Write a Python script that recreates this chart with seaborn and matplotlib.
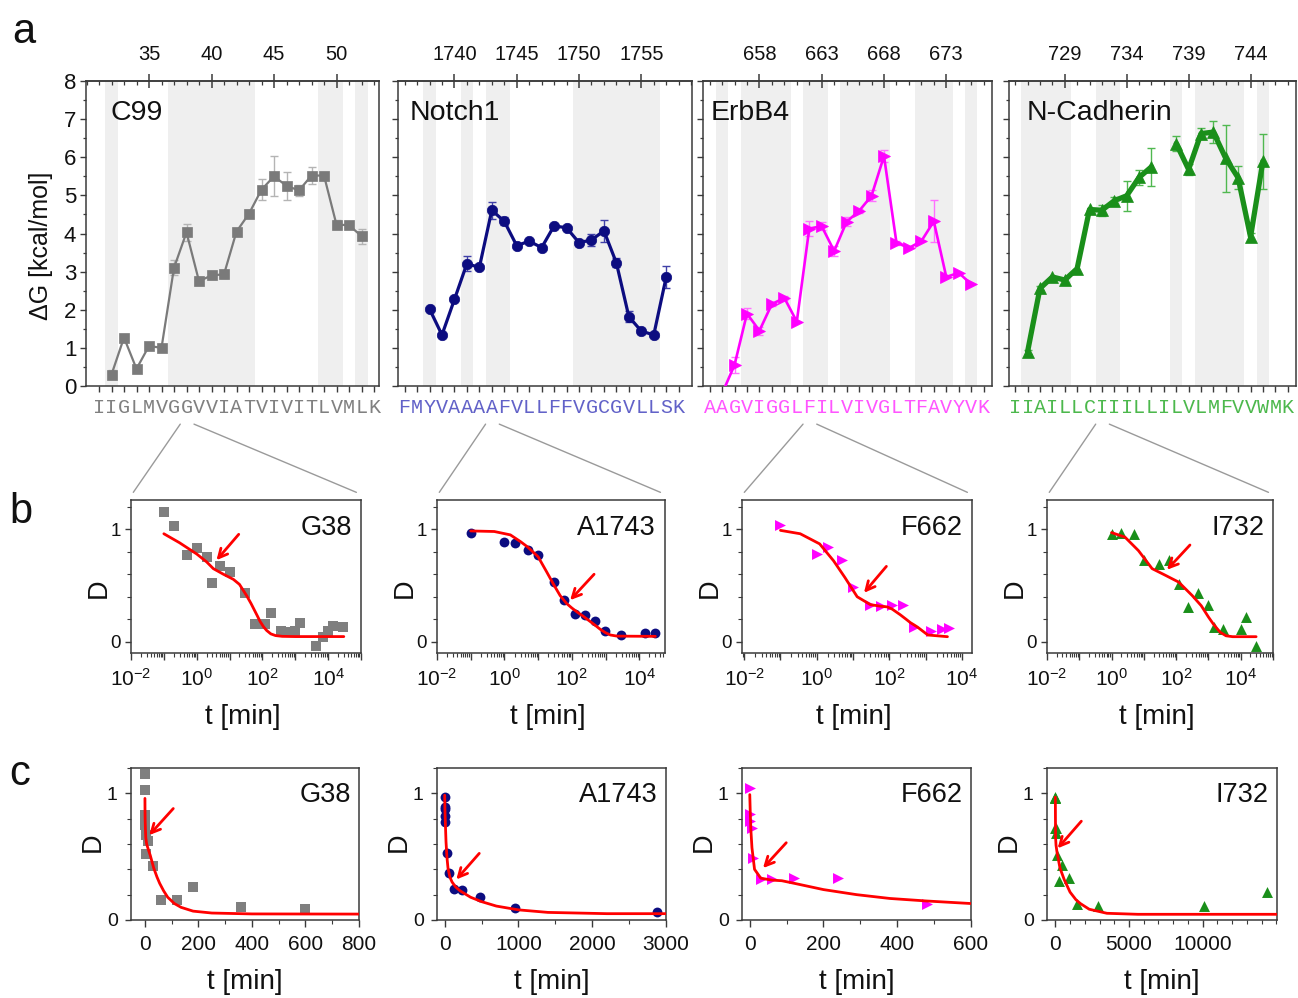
import numpy as np
import pandas as pd
import matplotlib
matplotlib.use("Agg")
import matplotlib.pyplot as plt
import seaborn as sns
from matplotlib.ticker import MultipleLocator, LogLocator, FuncFormatter, NullFormatter, FixedLocator
from matplotlib.patches import ConnectionPatch

# ---------------- data: panel a (dG profiles) ----------------
c99_seq = "IIGLMVGGVVIATVIVITLVMLK"
c99_first = 31
c99_top = [35, 40, 45, 50]
c99_res = list(range(32, 53))
c99_dg = [0.30, 1.27, 0.45, 1.05, 1.00, 3.10, 4.03, 2.75, 2.90, 2.93, 4.05,
          4.52, 5.15, 5.50, 5.25, 5.13, 5.52, 5.52, 4.23, 4.22, 3.93]
c99_err = [0.12, 0, 0, 0, 0, 0.20, 0.22, 0.10, 0.10, 0.10, 0,
           0.10, 0.28, 0.52, 0.37, 0.15, 0.22, 0, 0.12, 0, 0.20]
c99_shade = [(31.5, 32.5), (36.5, 43.5), (48.5, 50.5), (51.5, 52.5)]

notch_seq = "FMYVAAAAFVLLFFVGCGVLLSK"
notch_first = 1736
notch_top = [1740, 1745, 1750, 1755]
notch_res = list(range(1738, 1758))
notch_dg = [2.02, 1.34, 2.27, 3.21, 3.11, 4.61, 4.32, 3.68, 3.80, 3.63,
            4.20, 4.15, 3.76, 3.83, 4.07, 3.23, 1.82, 1.44, 1.34, 2.86]
notch_err = [0, 0, 0, 0.20, 0, 0.22, 0.10, 0, 0, 0,
             0, 0, 0.08, 0.15, 0.28, 0.12, 0.15, 0.08, 0.06, 0.30]
notch_shade = [(1737.5, 1738.5), (1740.5, 1741.5), (1742.5, 1744.5), (1749.5, 1756.5)]

erbb4_seq = "AAGVIGGLFILVIVGLTFAVYVK"
erbb4_first = 654
erbb4_top = [658, 663, 668, 673]
erbb4_res = list(range(655, 676))
erbb4_dg = [-0.20, 0.55, 1.90, 1.45, 2.15, 2.31, 1.69, 4.13, 4.19, 3.54, 4.31,
            4.59, 4.99, 6.03, 3.76, 3.62, 3.80, 4.32, 2.86, 2.97, 2.67]
erbb4_err = [0, 0.22, 0.15, 0.10, 0.05, 0.05, 0, 0.20, 0.10, 0.12, 0.12,
             0.05, 0.15, 0.15, 0.05, 0, 0, 0.55, 0, 0, 0]
erbb4_shade = [(654.5, 655.5), (656.5, 660.5), (661.5, 663.5), (664.5, 668.5),
               (670.5, 673.5), (674.5, 675.5)]

ncad_seq = "IIAILLCIIILLILVLMFVVWMK"
ncad_first = 725
ncad_top = [729, 734, 739, 744]
ncad_res = list(range(726, 746))
ncad_dg = [0.90, 2.56, 2.86, 2.78, 3.08, 4.63, 4.61, 4.86, 4.99, 5.47,
           5.75, np.nan, 6.36, 5.68, 6.62, 6.66, 5.97, 5.46, 3.91, 5.90]
ncad_err = [0.05, 0.05, 0, 0, 0, 0, 0.15, 0.10, 0.40, 0.20,
            0.50, 0, 0.20, 0.15, 0.15, 0.28, 0.88, 0.30, 0.10, 0.72]
ncad_shade = [(725.5, 729.5), (731.5, 733.5), (737.5, 738.5), (739.5, 743.5), (744.5, 745.5)]

# ---------------- data: panels b/c (kinetics) ----------------
g38_t = [0.1, 0.2, 0.5, 1, 2, 3, 5, 10, 30, 60, 120, 180, 360, 600, 960,
         1440, 4320, 7200, 10080, 14400, 28800]
g38_d = [1.15, 1.03, 0.77, 0.83, 0.75, 0.52, 0.67, 0.62, 0.43, 0.16, 0.16,
         0.26, 0.10, 0.09, 0.10, 0.17, -0.04, 0.04, 0.10, 0.14, 0.13]
g38_fit_t = [0.1, 0.3, 1, 2, 3.2, 6.5, 13, 20, 33, 45, 55, 70, 85, 110, 135,
             180, 250, 400, 1000, 30000]
g38_fit_d = [0.96, 0.88, 0.78, 0.71, 0.65, 0.60, 0.555, 0.51, 0.41, 0.34, 0.29,
             0.23, 0.18, 0.13, 0.10, 0.07, 0.055, 0.048, 0.046, 0.046]

a1743_t = [0.1, 1, 2, 5, 10, 30, 60, 120, 240, 480, 960, 2880, 14400, 28800]
a1743_d = [0.97, 0.89, 0.88, 0.82, 0.77, 0.53, 0.37, 0.245, 0.237, 0.185,
           0.095, 0.06, 0.08, 0.074]
a1743_fit_t = [0.1, 0.5, 1.5, 3, 5, 10, 18, 30, 45, 70, 100, 150, 210, 350,
               500, 700, 1000, 1400, 2200, 30000]
a1743_fit_d = [0.985, 0.98, 0.95, 0.89, 0.84, 0.755, 0.62, 0.50, 0.41, 0.34,
               0.30, 0.26, 0.23, 0.18, 0.145, 0.11, 0.08, 0.06, 0.05, 0.048]

f662_t = [0.1, 1, 2, 5, 10, 30, 60, 120, 240, 480, 1440, 2880, 4320]
f662_d = [1.04, 0.78, 0.84, 0.73, 0.49, 0.325, 0.32, 0.33, 0.33, 0.13, 0.10, 0.11, 0.12]
f662_fit_t = [0.1, 0.35, 1.2, 2.9, 6, 13, 30, 60, 87, 120, 200, 290, 380, 480,
              600, 1150, 4000]
f662_fit_d = [0.99, 0.96, 0.87, 0.72, 0.57, 0.40, 0.33, 0.315, 0.31, 0.29, 0.24,
              0.20, 0.17, 0.15, 0.13, 0.06, 0.045]

i732_t = [1, 2, 5, 10, 30, 60, 120, 240, 480, 960, 1440, 2880, 10080, 14400, 28800]
i732_d = [0.96, 0.97, 0.96, 0.725, 0.69, 0.73, 0.51, 0.31, 0.435, 0.33, 0.13,
          0.11, 0.11, 0.22, -0.04]
i732_fit_t = [1, 2.6, 6.8, 18, 47, 120, 316, 600, 1000, 1400, 1700, 2300, 3500,
              5600, 30000]
i732_fit_d = [0.97, 0.93, 0.81, 0.65, 0.59, 0.53, 0.41, 0.32, 0.22, 0.16, 0.13,
              0.085, 0.053, 0.045, 0.045]

# ---------------- style ----------------
sns.set_theme(style="ticks")
plt.rcParams["font.family"] = ["Liberation Sans", "DejaVu Sans"]
plt.rcParams["mathtext.fontset"] = "custom"
plt.rcParams["mathtext.rm"] = "Liberation Sans"
plt.rcParams["mathtext.it"] = "Liberation Sans:italic"
plt.rcParams["mathtext.bf"] = "Liberation Sans:bold"
plt.rcParams["axes.unicode_minus"] = True

W, H = 1298, 998
fig = plt.figure(figsize=(W / 100, H / 100), dpi=100)
SPINE = "#3a3a3a"
SHADE = "#efefef"
TXT = "#111111"


def add_ax(l, r, t, b):
    return fig.add_axes([l / W, 1 - b / H, (r - l) / W, (b - t) / H])


def style_spines(ax):
    for s in ax.spines.values():
        s.set_color(SPINE)
        s.set_linewidth(1.1)


profiles = [
    dict(name="C99", seq=c99_seq, first=c99_first, top=c99_top, res=c99_res, dg=c99_dg,
         err=c99_err, shade=c99_shade, xlim=(29.96, 53.4), lr=(86, 379),
         color="#7a7a7a", ecol="#b4b4b4", scol="#808080", marker="s", ms=7, lw=1.6, name_dx=24),
    dict(name="Notch1", seq=notch_seq, first=notch_first, top=notch_top, res=notch_res,
         dg=notch_dg, err=notch_err, shade=notch_shade, xlim=(1735.47, 1759.07), lr=(398, 692),
         color="#0c0c80", ecol="#4040a8", scol="#6262c8", marker="o", ms=7.5, lw=2.3, name_dx=12),
    dict(name="ErbB4", seq=erbb4_seq, first=erbb4_first, top=erbb4_top, res=erbb4_res,
         dg=erbb4_dg, err=erbb4_err, shade=erbb4_shade, xlim=(653.47, 676.67), lr=(703, 992),
         color="#ff00ff", ecol="#ff70ff", scol="#ff55ff", marker=">", ms=8.5, lw=1.9, name_dx=8),
    dict(name="N-Cadherin", seq=ncad_seq, first=ncad_first, top=ncad_top, res=ncad_res,
         dg=ncad_dg, err=ncad_err, shade=ncad_shade, xlim=(724.5, 747.67), lr=(1009, 1296),
         color="#1a8f1a", ecol="#50b850", scol="#4cb84c", marker="^", ms=8.5, lw=3.8, name_dx=18),
]

A_TOP, A_BOT = 81, 386
axes_a = []
for i, p in enumerate(profiles):
    ax = add_ax(p["lr"][0], p["lr"][1], A_TOP, A_BOT)
    axes_a.append(ax)
    for a, b in p["shade"]:
        ax.axvspan(a, b, color=SHADE, lw=0, zorder=0)
    df = pd.DataFrame({"res": p["res"], "dg": p["dg"], "err": p["err"]})
    df["seg"] = df["dg"].isna().cumsum()
    dfv = df.dropna(subset=["dg"])
    sns.lineplot(data=dfv, x="res", y="dg", units="seg", estimator=None, ax=ax,
                 color=p["color"], lw=p["lw"], marker=p["marker"], markersize=p["ms"],
                 markeredgecolor=p["color"], markeredgewidth=0.5, legend=False, zorder=3)
    de = dfv[dfv["err"] > 0]
    ax.errorbar(de["res"], de["dg"], yerr=de["err"], fmt="none", ecolor=p["ecol"],
                elinewidth=1.0, capsize=3, capthick=1.0, zorder=2)
    ax.set_xlim(*p["xlim"])
    ax.set_ylim(0, 8)
    ax.set_xlabel("")
    ax.set_ylabel("")
    n = len(p["seq"])
    ax.set_xticks(range(p["first"], p["first"] + n))
    ax.set_xticklabels(list(p["seq"]), family="Liberation Mono", color=p["scol"], fontsize=14.5)
    ax.tick_params(axis="x", which="major", direction="out", length=4.5, width=1,
                   color=SPINE, pad=4, bottom=True, top=False)
    ax.yaxis.set_major_locator(MultipleLocator(1))
    ax.yaxis.set_minor_locator(MultipleLocator(0.5))
    ax.tick_params(axis="y", which="major", direction="out", length=4.5, width=1,
                   color=SPINE, labelsize=16, pad=2.5, left=True, right=False,
                   labelleft=(i == 0), labelcolor=TXT)
    ax.tick_params(axis="y", which="minor", direction="out", length=2.5, width=0.9,
                   color=SPINE, left=True, right=False)
    sec = ax.secondary_xaxis("top")
    sec.set_xticks(p["top"])
    sec.xaxis.set_minor_locator(MultipleLocator(1))
    sec.tick_params(which="major", direction="inout", length=10, width=1.1, color=SPINE,
                    labelsize=14.5, pad=7, labelcolor=TXT)
    sec.tick_params(which="minor", direction="in", length=3, width=0.9, color=SPINE)
    for s in sec.spines.values():
        s.set_color(SPINE)
        s.set_linewidth(1.1)
    style_spines(ax)
    fig.text((p["lr"][0] + p["name_dx"]) / W, 1 - 120 / H, p["name"], fontsize=20.5,
             ha="left", va="baseline", color=TXT)

fig.text(41 / W, 1 - 246 / H, "\u0394G [kcal/mol]", rotation=90, fontsize=18,
         ha="center", va="center", color=TXT)

# ---------------- panels b and c ----------------
kin = [
    dict(name="G38", t=g38_t, d=g38_d, ft=g38_fit_t, fd=g38_fit_d, color="#7f7f7f", marker="s",
         s=46, res=38, pa=0, b_lr=(131, 361), b_xlim=(1e-2, 1e5), c_lr=(131, 359),
         c_xlim=(-52, 800), c_ticks=[0, 200, 400, 600, 800], c_minor=100,
         b_arrow=((19, 0.955), (4.0, 0.725)), c_arrow=((106, 0.88), (16, 0.67))),
    dict(name="A1743", t=a1743_t, d=a1743_d, ft=a1743_fit_t, fd=a1743_fit_d, color="#0c0c80",
         marker="o", s=50, res=1743, pa=1, b_lr=(437, 665), b_xlim=(1e-2, 5.8e4), c_lr=(437, 666),
         c_xlim=(-104, 3000), c_ticks=[0, 1000, 2000, 3000], c_minor=500,
         b_arrow=((457, 0.60), (89, 0.37)), c_arrow=((469, 0.526), (158, 0.32))),
    dict(name="F662", t=f662_t, d=f662_d, ft=f662_fit_t, fd=f662_fit_d, color="#ff00ff",
         marker=">", s=62, res=662, pa=2, b_lr=(742, 972), b_xlim=(8.7e-3, 1.9e4), c_lr=(742, 971),
         c_xlim=(-21, 600), c_ticks=[0, 200, 400, 600], c_minor=100,
         b_arrow=((83, 0.67), (20, 0.435)), c_arrow=((99, 0.61), (36, 0.41))),
    dict(name="I732", t=i732_t, d=i732_d, ft=i732_fit_t, fd=i732_fit_d, color="#1a8f1a",
         marker="^", s=62, res=732, pa=3, b_lr=(1047, 1273), b_xlim=(1e-2, 1e5), c_lr=(1047, 1277),
         c_xlim=(-566, 15050), c_ticks=[0, 5000, 10000], c_minor=1000,
         b_arrow=((268, 0.86), (52, 0.64)), c_arrow=((1765, 0.78), (158, 0.566))),
]

B_TOP, B_BOT = 500, 653
C_TOP, C_BOT = 768, 920


def log_fmt(v, pos):
    e = int(round(np.log10(v)))
    return "$10^{%d}$" % e if e % 2 == 0 else ""


arrow_kw = dict(arrowstyle="->", color="red", lw=2.0, mutation_scale=16,
                shrinkA=0, shrinkB=0)

for k in kin:
    # ---- panel b (log time) ----
    axb = add_ax(k["b_lr"][0], k["b_lr"][1], B_TOP, B_BOT)
    axb.set_xscale("log")
    sns.scatterplot(x=k["t"], y=k["d"], marker=k["marker"], s=k["s"], color=k["color"],
                    edgecolor=k["color"], linewidth=0, ax=axb, zorder=3, legend=False)
    sns.lineplot(x=k["ft"], y=k["fd"], color="red", lw=2.0, ax=axb, estimator=None,
                 sort=False, zorder=4, legend=False)
    axb.set_xlim(*k["b_xlim"])
    axb.set_ylim(-0.1, 1.26)
    axb.xaxis.set_major_locator(LogLocator(base=10, numticks=30))
    axb.xaxis.set_major_formatter(FuncFormatter(log_fmt))
    axb.xaxis.set_minor_locator(LogLocator(base=10, subs=np.arange(2, 10), numticks=30))
    axb.xaxis.set_minor_formatter(NullFormatter())
    axb.set_yticks([0, 1])
    axb.set_yticklabels(["0", "1"])
    axb.yaxis.set_minor_locator(MultipleLocator(0.2))
    axb.tick_params(axis="x", which="major", direction="out", length=5, width=1, color=SPINE,
                    labelsize=15, pad=6, labelcolor=TXT)
    axb.tick_params(axis="x", which="minor", direction="out", length=2.8, width=0.8, color=SPINE)
    axb.tick_params(axis="y", which="major", direction="out", length=4.5, width=1, color=SPINE,
                    labelsize=13.5, pad=3, labelcolor=TXT)
    axb.tick_params(axis="y", which="minor", direction="out", length=3, width=0.8, color=SPINE)
    axb.set_xlabel("")
    axb.set_ylabel("")
    style_spines(axb)
    axb.annotate("", xy=k["b_arrow"][1], xytext=k["b_arrow"][0], arrowprops=arrow_kw, zorder=5)
    axb.text(1 - 9 / (k["b_lr"][1] - k["b_lr"][0]), (B_BOT - 535) / (B_BOT - B_TOP), k["name"],
             transform=axb.transAxes, ha="right", va="baseline", fontsize=19.5, color=TXT)
    fig.text((k["b_lr"][0] - 32) / W, 1 - 588 / H, "D", rotation=90, fontsize=19.5,
             ha="center", va="center", color=TXT)
    fig.text(((k["b_lr"][0] + k["b_lr"][1]) / 2 - 3) / W, 1 - 717 / H, "t [min]", fontsize=20,
             ha="center", va="center", color=TXT)

    # connector lines from the sequence letter to panel b
    axa = axes_a[k["pa"]]
    for dx, xb in ((-0.5, 0.01), (0.6, 0.98)):
        con = ConnectionPatch(xyA=(k["res"] + dx, -0.125), coordsA=axa.get_xaxis_transform(),
                              xyB=(xb, 1.05), coordsB=axb.transAxes, color="#9a9a9a", lw=1.0)
        fig.add_artist(con)

    # ---- panel c (linear time) ----
    axc = add_ax(k["c_lr"][0], k["c_lr"][1], C_TOP, C_BOT)
    sns.scatterplot(x=k["t"], y=k["d"], marker=k["marker"], s=k["s"], color=k["color"],
                    edgecolor=k["color"], linewidth=0, ax=axc, zorder=3, legend=False)
    sns.lineplot(x=k["ft"], y=k["fd"], color="red", lw=2.0, ax=axc, estimator=None,
                 sort=False, zorder=4, legend=False)
    axc.set_xlim(*k["c_xlim"])
    axc.set_ylim(0, 1.2)
    axc.xaxis.set_major_locator(FixedLocator(k["c_ticks"]))
    axc.xaxis.set_minor_locator(MultipleLocator(k["c_minor"]))
    axc.set_yticks([0, 1])
    axc.set_yticklabels(["0", "1"])
    axc.yaxis.set_minor_locator(MultipleLocator(0.2))
    axc.tick_params(axis="x", which="major", direction="out", length=5, width=1, color=SPINE,
                    labelsize=15, pad=6, labelcolor=TXT)
    axc.tick_params(axis="x", which="minor", direction="out", length=3, width=0.8, color=SPINE)
    axc.tick_params(axis="y", which="major", direction="out", length=4.5, width=1, color=SPINE,
                    labelsize=14, pad=5, labelcolor=TXT)
    axc.tick_params(axis="y", which="minor", direction="out", length=3, width=0.8, color=SPINE)
    axc.set_xlabel("")
    axc.set_ylabel("")
    style_spines(axc)
    axc.annotate("", xy=k["c_arrow"][1], xytext=k["c_arrow"][0], arrowprops=arrow_kw, zorder=5)
    axc.text(1 - 8 / (k["c_lr"][1] - k["c_lr"][0]), (C_BOT - 802) / (C_BOT - C_TOP), k["name"],
             transform=axc.transAxes, ha="right", va="baseline", fontsize=19.5, color=TXT)
    fig.text((k["c_lr"][0] - 38) / W, 1 - 842 / H, "D", rotation=90, fontsize=19.5,
             ha="center", va="center", color=TXT)
    fig.text(((k["c_lr"][0] + k["c_lr"][1]) / 2) / W, 1 - 982 / H, "t [min]", fontsize=20,
             ha="center", va="center", color=TXT)

# panel letters
fig.text(12 / W, 1 - 43 / H, "a", fontsize=30, ha="left", va="baseline", color=TXT)
fig.text(9 / W, 1 - 523 / H, "b", fontsize=30, ha="left", va="baseline", color=TXT)
fig.text(9 / W, 1 - 785 / H, "c", fontsize=30, ha="left", va="baseline", color=TXT)

fig.savefig("out.png", dpi=100, facecolor="white")
